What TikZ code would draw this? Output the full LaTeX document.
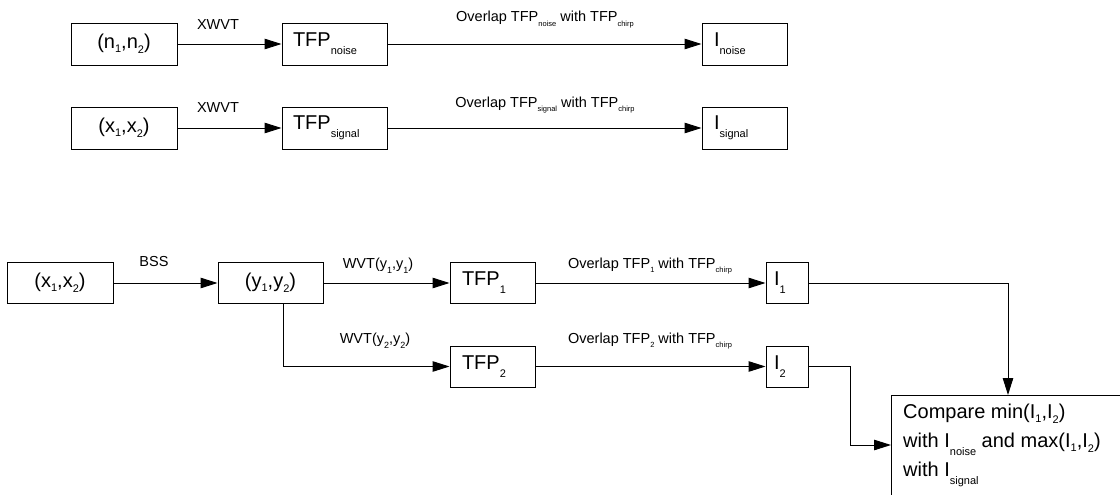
\documentclass[tikz,border=0pt]{standalone}
\usepackage{fontspec}
\setmainfont{Liberation Sans}
\usetikzlibrary{arrows.meta,calc,positioning}

% subscripts: inside boxes, in the small arrow labels, and in the WVT labels
\newcommand\bsub[2][6pt]{\raisebox{-#1}{\fontsize{11}{11}\selectfont #2}}
\newcommand\tsub[1]{\raisebox{-4.5pt}{\fontsize{7.5}{7.5}\selectfont #1}}
\newcommand\wsub[1]{\raisebox{-5pt}{\fontsize{9}{9}\selectfont #1}}

\tikzset{
  block/.style={draw, line width=0.95pt, inner sep=0pt,
    font=\fontsize{20}{22}\selectfont},
  lab/.style={anchor=base, inner sep=0pt, font=\fontsize{14.5}{16}\selectfont},
  flow/.style={line width=0.95pt, -{Triangle[length=17pt,width=10.5pt]}},
}

\begin{document}
\begin{tikzpicture}[x=1pt, y=-1pt]
\useasboundingbox (0,0) rectangle (1120,495);
\clip (0,0) rectangle (1120,495);

% --- reference case: noise only and signal only
\node[block, minimum width=106pt, minimum height=42pt] (n12) at (124,44) {(n\bsub[4pt]{1},n\bsub[5pt]{2})};
\node[block, minimum width=105pt, minimum height=42pt, text width=83pt, align=left] (tfpn) at (334.5,44) {TFP\bsub[8pt]{noise}};
\node[block, minimum width=85pt, minimum height=42pt, text width=61pt, align=left] (inoise) at (744.5,44) {I\bsub[8pt]{noise}};

\node[block, minimum width=106pt, minimum height=42pt] (xa) at (124,128) {(x\bsub[4pt]{1},x\bsub[5pt]{2})};
\node[block, minimum width=105pt, minimum height=42pt, text width=83pt, align=left] (tfps) at (334.5,128) {TFP\bsub[8pt]{signal}};
\node[block, minimum width=85pt, minimum height=42pt, text width=61pt, align=left] (isig) at (744.5,128) {I\bsub[8pt]{signal}};

\draw[flow] (n12) -- (tfpn);
\draw[flow] (tfpn) -- (inoise);
\draw[flow] (xa) -- (tfps);
\draw[flow] (tfps) -- (isig);

\node[lab] (l1) at (218,30) {XWVT};
\node[lab] (l2) at (545,22) {Overlap TFP\tsub{noise} with TFP\tsub{chirp}};
\node[lab] (l3) at (218,113) {XWVT};
\node[lab] (l4) at (545,107) {Overlap TFP\tsub{signal} with TFP\tsub{chirp}};

% --- mixture: separation, transforms and comparison
\node[block, minimum width=106pt, minimum height=41pt] (xb) at (60,283) {(x\bsub[4pt]{1},x\bsub[5pt]{2})};
\node[block, minimum width=105pt, minimum height=41pt] (y12) at (270.5,283) {(y\bsub[4pt]{1},y\bsub[5pt]{2})};
\node[block, minimum width=85pt, minimum height=41pt, text width=61pt, align=left] (tfp1) at (492.5,283) {TFP\bsub[8pt]{1}};
\node[block, minimum width=42pt, minimum height=41pt, text width=26pt, align=left] (i1) at (787,283) {I\bsub[8pt]{1}};
\node[block, minimum width=85pt, minimum height=41pt, text width=61pt, align=left] (tfp2) at (492.5,366.5) {TFP\bsub[8pt]{2}};
\node[block, minimum width=42pt, minimum height=41pt, text width=26pt, align=left] (i2) at (787,366.5) {I\bsub[8pt]{2}};

\node[draw, line width=0.95pt, anchor=north west, minimum width=260pt, minimum height=130pt] (cmp) at (891,395) {};
\node[anchor=north west, inner sep=0pt, align=left, font=\fontsize{20}{29}\selectfont]
  (cmptext) at ($(cmp.north west)+(12,9)$)
  {Compare min(I\bsub[4pt]{1},I\bsub[5pt]{2})\\
   with I\bsub[8pt]{noise} and max(I\bsub[4pt]{1},I\bsub[5pt]{2})\\
   with I\bsub[8pt]{signal}};

\draw[flow] (xb) -- (y12);
\draw[flow] (y12) -- (tfp1);
\draw[flow] ($(y12.south)+(12.5,0)$) |- (tfp2);
\draw[flow] (tfp1) -- (i1);
\draw[flow] (tfp2) -- (i2);
\draw[flow] (i1.east) -| ($(cmp.north west)+(117,0)$);
\draw[flow] (i2.east) -- ++(42,0) |- ($(cmp.north west)+(0,50)$);

\node[lab] (l5) at (154,266) {BSS};
\node[lab] (l6) at (378,268) {WVT(y\wsub{1},y\wsub{1})};
\node[lab] (l7) at (375,343) {WVT(y\wsub{2},y\wsub{2})};
\node[lab] (l8) at (650,268) {Overlap TFP\tsub{1} with TFP\tsub{chirp}};
\node[lab] (l9) at (650,343) {Overlap TFP\tsub{2} with TFP\tsub{chirp}};
\end{tikzpicture}
\end{document}
